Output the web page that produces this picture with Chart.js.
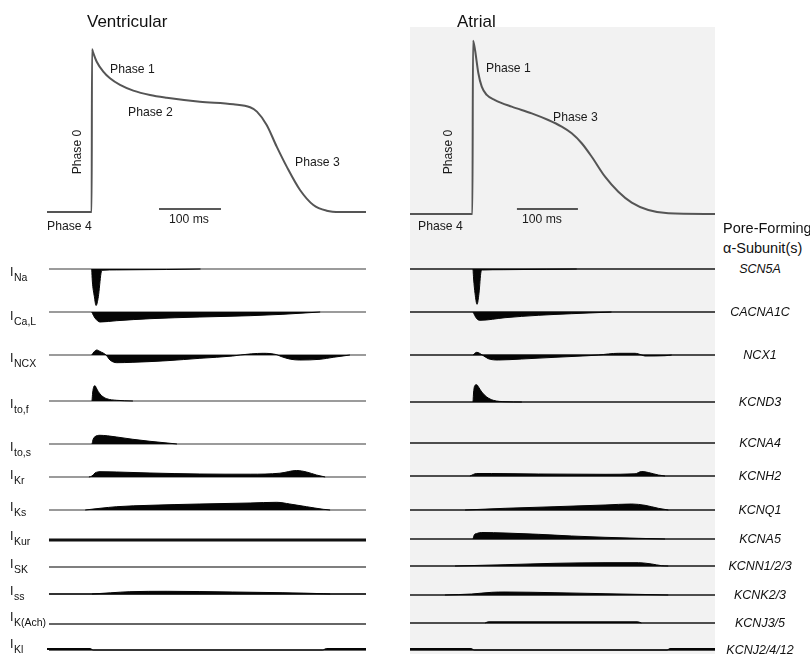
<!DOCTYPE html>
<html>
<head>
<meta charset="utf-8">
<script src="https://cdn.jsdelivr.net/npm/chart.js@4.4.0/dist/chart.umd.min.js"></script>
<style>
  html, body { margin: 0; padding: 0; background: #fff; }
  #stage { position: relative; width: 810px; height: 654px; overflow: hidden; background: #fff;
           font-family: "Liberation Sans", Arial, Helvetica, sans-serif; color: #111; }
  .t { position: absolute; white-space: nowrap; line-height: 1; }
  canvas { position: absolute; }
</style>
</head>
<body>
<div id="stage"><div id="panel" style="position:absolute;left:410px;top:27px;width:305px;height:627px;background:#f2f2f2;"></div></div>
<script>
// ---------------- DATA (time in ms, potential in mV, currents in relative units; + outward, - inward) ----------------
const ventAP_t  = [-72.6, -0.6, 0, 1.5, 7.6, 18.2, 29, 45.2, 66.6, 93.5, 120.5, 174, 228, 255, 266, 281.7, 297.9, 314, 335.5, 357, 378.5, 400, 441.9];
const ventAP_mV = [-85, -85, 29.8, 27.9, 21.0, 14.0, 9.3, 4.6, 0.6, -2.5, -4.4, -7.2, -9.0, -11.1, -14.2, -23.6, -38.9, -53, -69.5, -80.1, -84.1, -85, -85];
const atrAP_t   = [-103.3, -1, 0, 3.3, 8.7, 14.3, 22.5, 36, 63.4, 96.2, 123.4, 145.4, 161.8, 178.2, 194.6, 216.4, 238.2, 260.2, 287.4, 320.2, 396.7];
const atrAP_mV  = [-85, -85, 37.3, 30.7, 14.5, 4.8, -1, -4.6, -9.3, -14, -18.7, -23.4, -28.1, -35.1, -44.6, -58.7, -69.3, -77, -82.2, -84.5, -85];

const ventTimeRange = [-72.6, 441.9];
const atrTimeRange  = [-103.3, 396.7];
const ventScaleBar = [108, 208];   // 100 ms
const atrScaleBar  = [72, 172];    // 100 ms

const currentNames = [["I","Na"],["I","Ca,L"],["I","NCX"],["I","to,f"],["I","to,s"],["I","Kr"],["I","Ks"],["I","Kur"],["I","SK"],["I","ss"],["I","K(Ach)"],["I","Kl"]];
const geneNames = ["SCN5A","CACNA1C","NCX1","KCND3","KCNA4","KCNH2","KCNQ1","KCNA5","KCNN1/2/3","KCNK2/3","KCNJ3/5","KCNJ2/4/12"];

// Ventricular currents [t, I]
const v_INa  = [[-0.5,0],[0.5,-12],[3.8,-27.7],[6.5,-36.5],[10.2,-27.7],[14.5,-4.3],[16,-1.3],[40,-0.9],[120,-0.5],[175,0]];
const v_ICaL = [[-0.5,0],[4.8,-6],[12.9,-10],[39.8,-8.7],[93.5,-6.7],[174,-5],[255,-3.7],[308,-2.3],[368,0]];
const v_INCX = [[-0.5,0],[3,3],[7.6,5],[13,3.5],[22.6,0],[29,-5],[39.8,-7.7],[66,-7.3],[121,-5.7],[174,-3.3],[227,-1],[239,0],[276,1.7],[298,0.3],[305,-1.5],[320,-4.2],[335,-5],[368,-4.3],[389,-2.3],[416,0]];
const v_Itof = [[0,0],[1,8],[3,14.5],[4.8,15.3],[7,13],[10.2,9.3],[15.6,5.3],[23.7,2.3],[39.8,0.7],[66,0]];
const v_Itos = [[0,0],[2,5],[4.8,7.3],[12.9,8.7],[25,8.2],[39.8,7],[66,4.7],[93.5,2.7],[126,0.7],[137,0]];
const v_IKr  = [[-5,0],[0,1],[4.8,4],[12.9,5.3],[39.8,5],[93.5,4],[174,3],[255,2.8],[303,3.8],[330,6.5],[346,5],[362,2],[376,0]];
const v_IKs  = [[-11,0],[12.9,1.7],[39.8,3.3],[93.5,4.7],[174,6],[255,7],[298,7.7],[319,6],[346,3.3],[373,0.7],[384,0]];
const v_IKur = null;
const v_ISK  = null;
const v_Iss  = [[0,0],[30,1.2],[61,2.3],[121,2.7],[227,2],[308,1.3],[373,0.3],[384,0]];
const v_IKAch = null;
const v_IK1  = [[-72.6,1.5],[-3,1.5],[2,0],[372,0],[378,1.5],[441.9,1.5]];

// Atrial currents [t, I]
const a_SCN5A   = [[0,0],[1,-10],[3.3,-24.3],[6.6,-35.3],[9.8,-24.3],[13.1,-2.7],[15.2,-1],[50,-0.7],[120,-0.3],[170,0]];
const a_CACNA1C = [[0,0],[6.1,-6.7],[11.5,-8.3],[52.5,-5.7],[107,-3.3],[161.8,-1.7],[216.4,-0.3],[227,0]];
const a_NCX1    = [[0,0],[6.1,2.7],[15.2,0],[25.1,-3.7],[41.5,-5],[79.8,-4],[134.4,-2.3],[189,-0.7],[205.4,0],[238.2,1.7],[265.6,1.7],[276.6,0],[282,-1],[314.8,-0.7],[325.7,0]];
const a_KCND3   = [[0,0],[1,10],[3,16.5],[6.1,17.3],[9,15],[14.3,10],[22.5,5],[33.3,1.7],[52.5,0.3],[80,0]];
const a_KCNA4   = null;
const a_KCNH2   = [[-5,0],[6.1,2.5],[30.7,2.5],[107,2],[216.4,1.7],[265.6,2.2],[276.6,4.5],[287.4,3.5],[303.8,1],[314.8,0]];
const a_KCNQ1   = [[-13,0],[52.5,1.7],[134.4,3.3],[216.4,5],[260.2,6],[282,4.7],[303.8,1.7],[320.2,0]];
const a_KCNA5   = [[0,0],[2,4],[6.1,5.5],[14.3,6.5],[52.5,6],[107,4.7],[161.8,3],[216.4,1.7],[271,0.7],[314.8,0]];
const a_KCNN    = [[-29.5,0],[52.5,1.3],[134.4,2.7],[216.4,3.3],[271,3.3],[293,2],[309.3,0.3],[320,0]];
const a_KCNK    = [[-46,0],[-2,1],[30.7,2.7],[52.5,3],[134.4,2.3],[216.4,1.3],[298.4,0.3],[320,0]];
const a_KCNJ35  = [[20,0],[25,1.2],[270,1.2],[276,0]];
const a_KCNJ2   = [[-103.3,1.5],[-3,1.5],[2,0],[318,0],[323,1.5],[396.7,1.5]];

const ventCurrents = [v_INa, v_ICaL, v_INCX, v_Itof, v_Itos, v_IKr, v_IKs, v_IKur, v_ISK, v_Iss, v_IKAch, v_IK1];
const atrCurrents  = [a_SCN5A, a_CACNA1C, a_NCX1, a_KCND3, a_KCNA4, a_KCNH2, a_KCNQ1, a_KCNA5, a_KCNN, a_KCNK, a_KCNJ35, a_KCNJ2];

// ---------------- LAYOUT / STYLE ----------------
const stage = document.getElementById('stage');
const ventBase = [269, 312, 355, 401, 444, 477, 510, 540, 567, 594, 624, 650];
const atrBase  = [269, 312, 355, 402, 443, 476, 510, 539, 566, 595, 623, 650];
const labelTop = [268, 312, 354, 400, 443, 471, 503, 532, 560, 587, 613, 640];
const ventLineColor = ['#7a7a7a','#7a7a7a','#7a7a7a','#7a7a7a','#7a7a7a','#7a7a7a','#777','#111','#555','#333','#333','#333'];
const ventLineWidth = [1.5,1.5,1.5,1.5,1.5,1.5,1.5,2.8,1.5,1.8,1.6,1.6];
const atrLineColor = '#4d4d4d';
const atrLineWidth = 1.8;

function pts(tArr, vArr) { return tArr.map((t, i) => ({ x: t, y: vArr[i] })); }
function pairs(arr) { return arr.map(p => ({ x: p[0], y: p[1] })); }

function makeChart(left, top, w, h, xr, yr, datasets) {
  const c = document.createElement('canvas');
  c.width = w; c.height = h;
  c.style.left = left + 'px'; c.style.top = top + 'px';
  c.style.width = w + 'px'; c.style.height = h + 'px';
  stage.appendChild(c);
  return new Chart(c, {
    type: 'line',
    data: { datasets },
    options: {
      responsive: false, animation: false, devicePixelRatio: 1, events: [],
      layout: { padding: 0 },
      plugins: { legend: { display: false }, tooltip: { enabled: false } },
      elements: { point: { radius: 0 }, line: { cubicInterpolationMode: 'monotone' } },
      scales: {
        x: { type: 'linear', display: false, min: xr[0], max: xr[1] },
        y: { type: 'linear', display: false, min: yr[0], max: yr[1] }
      }
    }
  });
}

// Action potentials
makeChart(47, 30, 319, 200, ventTimeRange, [-97.7, 43.4], [
  { data: pts(ventAP_t, ventAP_mV), borderColor: '#555', borderWidth: 2, fill: false },
  { data: [{x: ventScaleBar[0], y: -82.9}, {x: ventScaleBar[1], y: -82.9}], borderColor: '#222', borderWidth: 1.5, fill: false }
]);
makeChart(410, 30, 305, 200, atrTimeRange, [-96.3, 44.8], [
  { data: pts(atrAP_t, atrAP_mV), borderColor: '#555', borderWidth: 2, fill: false },
  { data: [{x: atrScaleBar[0], y: -81.5}, {x: atrScaleBar[1], y: -81.5}], borderColor: '#222', borderWidth: 1.5, fill: false }
]);

// Current rows
function row(left, w, base, xr, lineStart, cur, lc, lw) {
  const ds = [];
  if (cur) ds.push({ data: pairs(cur), borderColor: '#050505', backgroundColor: '#050505', borderWidth: 1, fill: 'origin' });
  ds.push({ data: [{x: lineStart, y: 0}, {x: xr[1], y: 0}], borderColor: lc, borderWidth: lw, fill: false });
  makeChart(left, base - 25, w, 66, xr, [-41, 25], ds);
}
ventCurrents.forEach((cur, i) => row(47, 319, ventBase[i], ventTimeRange, -69.4, cur, ventLineColor[i], ventLineWidth[i]));
atrCurrents.forEach((cur, i) => row(410, 305, atrBase[i], atrTimeRange, atrTimeRange[0], cur, atrLineColor, atrLineWidth));

// ---------------- TEXT ----------------
function txt(s, x, yc, fs, opt = {}) {
  const d = document.createElement('div');
  d.className = 't';
  d.textContent = s;
  d.style.left = x + 'px'; d.style.top = yc + 'px';
  d.style.fontSize = fs + 'px';
  d.style.transform = opt.tf || 'translateY(-50%)';
  if (opt.italic) d.style.fontStyle = 'italic';
  if (opt.color) d.style.color = opt.color;
  stage.appendChild(d);
  return d;
}
txt('Ventricular', 87, 21, 17);
txt('Atrial', 457, 21, 17);
// ventricular phases
txt('Phase 1', 110, 69, 12.2, {color:'#1a1a1a'});
txt('Phase 2', 128, 112, 12.2, {color:'#1a1a1a'});
txt('Phase 3', 295, 162, 12.2, {color:'#1a1a1a'});
txt('Phase 4', 47, 226, 12.2, {color:'#1a1a1a'});
txt('Phase 0', 77, 152, 12.2, {color:'#1a1a1a', tf:'translate(-50%,-50%) rotate(-90deg)'});
txt('100 ms', 169, 219, 12.2, {color:'#1a1a1a'});
// atrial phases
txt('Phase 1', 486, 68, 12.2, {color:'#1a1a1a'});
txt('Phase 3', 553, 117, 12.2, {color:'#1a1a1a'});
txt('Phase 4', 418, 226, 12.2, {color:'#1a1a1a'});
txt('Phase 0', 448, 152, 12.2, {color:'#1a1a1a', tf:'translate(-50%,-50%) rotate(-90deg)'});
txt('100 ms', 522, 219, 12.2, {color:'#1a1a1a'});
// header of gene column
txt('Pore-Forming', 723, 228, 14.5);
txt('\u03B1-Subunit(s)', 723, 248, 14.5);
// gene names
geneNames.forEach((g, i) => txt(g, 760, atrBase[i], 12.5, {italic: true, tf: 'translate(-50%,-50%)'}));
// current names (I with subscript)
currentNames.forEach((n, i) => {
  const I = document.createElement('div');
  I.className = 't'; I.textContent = n[0];
  I.style.fontSize = '12.5px';
  I.style.left = '10px'; I.style.top = (labelTop[i] - 0.13 * 12.5) + 'px';
  stage.appendChild(I);
  const s = document.createElement('div');
  s.className = 't'; s.textContent = n[1];
  s.style.fontSize = '10.5px';
  s.style.left = '14px'; s.style.top = (labelTop[i] + 5 - 0.13 * 10.5) + 'px';
  stage.appendChild(s);
});
</script>
</body>
</html>
